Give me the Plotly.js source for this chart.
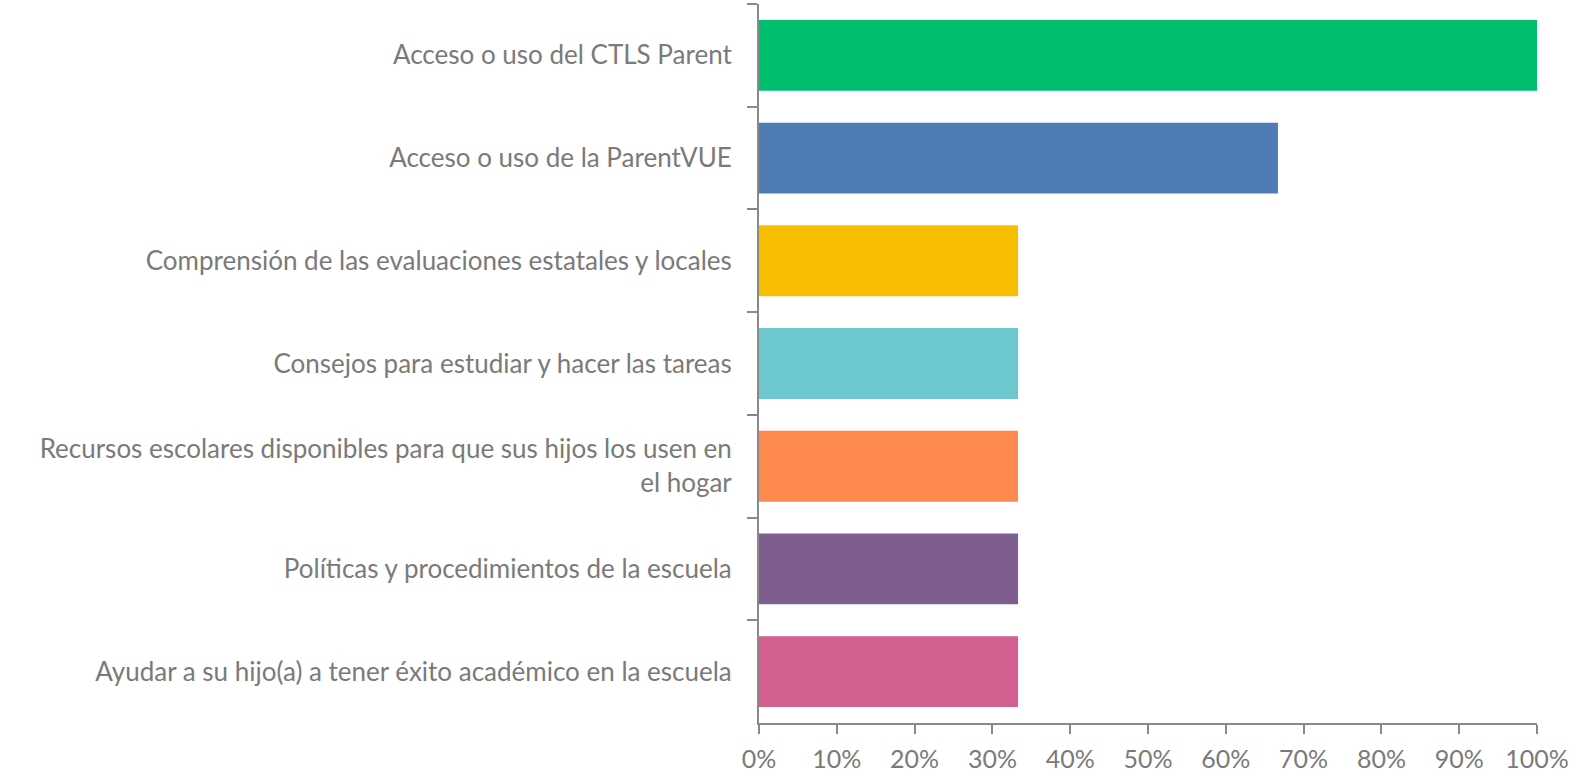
<!DOCTYPE html>
<html>
<head>
<meta charset="utf-8">
<script src="https://cdn.plot.ly/plotly-3.0.1.min.js"></script>
<style>
  html, body { margin: 0; padding: 0; background: #ffffff; }
  #grafica { width: 1571px; height: 779px; }
</style>
</head>
<body>
<div id="grafica"></div>
<script>
// categorías (de arriba hacia abajo)
const categorias = [
  "Acceso o uso del CTLS Parent",
  "Acceso o uso de la ParentVUE",
  "Comprensión de las evaluaciones estatales y locales",
  "Consejos para estudiar y hacer las tareas",
  "Recursos escolares disponibles para que sus hijos los usen en<br>el hogar",
  "Políticas y procedimientos de la escuela",
  "Ayudar a su hijo(a) a tener éxito académico en la escuela"
];

const valores = [1.0, 0.667, 0.333, 0.333, 0.333, 0.333, 0.333];

const colores = ["#00BF6F", "#4F7CB5", "#F8BE00", "#6CC8CE", "#FF8A50", "#7E5E8F", "#D35F90"];

const ticksX = [0, 0.1, 0.2, 0.3, 0.4, 0.5, 0.6, 0.7, 0.8, 0.9, 1.0];
const etiquetasX = ["0%", "10%", "20%", "30%", "40%", "50%", "60%", "70%", "80%", "90%", "100%"];

const GRIS_EJE = "#898989";
const GRIS_TEXTO = "#7a7a7a";

const data = [{
  type: "bar",
  orientation: "h",
  x: valores,
  y: categorias,
  marker: { color: colores, line: { width: 0 } },
  hoverinfo: "none"
}];

const layout = {
  width: 1571,
  height: 779,
  margin: { l: 759, r: 34, t: 4, b: 56, pad: 0 },
  paper_bgcolor: "#ffffff",
  plot_bgcolor: "#ffffff",
  font: { family: "Lato, 'Open Sans', sans-serif", size: 26, color: GRIS_TEXTO },
  showlegend: false,
  bargap: 0.31,
  xaxis: {
    range: [0, 1],
    tickvals: ticksX,
    ticktext: etiquetasX,
    showgrid: false,
    zeroline: false,
    showline: true,
    linecolor: GRIS_EJE,
    linewidth: 2,
    ticks: "outside",
    ticklen: 9,
    tickwidth: 2,
    tickcolor: GRIS_EJE,
    ticklabelstandoff: 4,
    tickfont: { size: 25, color: GRIS_TEXTO },
    fixedrange: true
  },
  yaxis: {
    type: "category",
    autorange: "reversed",
    showgrid: false,
    zeroline: false,
    showline: true,
    linecolor: GRIS_EJE,
    linewidth: 2,
    ticks: "outside",
    tickson: "boundaries",
    ticklen: 10,
    tickwidth: 2,
    tickcolor: GRIS_EJE,
    ticklabelstandoff: 20,
    tickfont: { size: 26, color: GRIS_TEXTO },
    fixedrange: true
  }
};

Plotly.newPlot("grafica", data, layout, { displayModeBar: false, staticPlot: true });
</script>
</body>
</html>
